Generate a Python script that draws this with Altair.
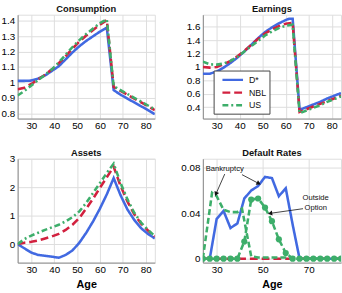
import math
import altair as alt
import pandas as pd

# ---------------- data ----------------
SERIES = ["D*", "NBL", "US"]
AGES = [24, 27, 30, 33, 36, 39, 42, 45, 48, 51, 54, 57, 60, 63, 66, 69, 72, 75, 78, 81, 84]

cons_d = [1.010, 1.010, 1.012, 1.025, 1.045, 1.075, 1.105, 1.150, 1.195, 1.235, 1.270, 1.300, 1.330, 1.355,
          0.950, 0.920, 0.895, 0.870, 0.845, 0.820, 0.793]
cons_n = [0.955, 0.965, 0.990, 1.020, 1.050, 1.085, 1.125, 1.170, 1.220, 1.265, 1.305, 1.340, 1.375, 1.405,
          0.970, 0.945, 0.920, 0.895, 0.870, 0.845, 0.820]
cons_u = [0.915, 0.945, 0.980, 1.015, 1.050, 1.085, 1.130, 1.180, 1.230, 1.275, 1.315, 1.350, 1.385, 1.410,
          0.975, 0.950, 0.925, 0.900, 0.875, 0.850, 0.825]

earn_d_ages = [24, 27, 30, 33, 36, 39, 42, 45, 48, 51, 54, 57, 60, 61.5, 63, 66, 69, 72, 75, 78, 81, 84]
earn_d = [0.90, 0.90, 0.93, 0.99, 1.06, 1.14, 1.23, 1.33, 1.43, 1.52, 1.59, 1.65, 1.70, 1.72, 1.72,
          0.36, 0.40, 0.44, 0.48, 0.53, 0.57, 0.61]
earn_n = [1.00, 0.99, 1.00, 1.04, 1.09, 1.16, 1.24, 1.33, 1.42, 1.50, 1.56, 1.61, 1.645, 1.66,
          0.33, 0.37, 0.41, 0.45, 0.49, 0.53, 0.57]
earn_u = [1.08, 1.04, 1.035, 1.05, 1.09, 1.15, 1.23, 1.31, 1.39, 1.47, 1.53, 1.58, 1.615, 1.63,
          0.31, 0.35, 0.39, 0.43, 0.48, 0.52, 0.56]

asset_d = [0.00, -0.15, -0.30, -0.38, -0.41, -0.44, -0.48, -0.38, -0.22, 0.05, 0.40, 0.80, 1.25, 1.75,
           2.32, 1.72, 1.22, 0.85, 0.56, 0.36, 0.20]
asset_n = [0.00, 0.05, 0.08, 0.13, 0.20, 0.27, 0.36, 0.50, 0.68, 0.92, 1.25, 1.60, 1.98, 2.35,
           2.72, 2.05, 1.50, 1.05, 0.72, 0.48, 0.27]
asset_u = [0.00, 0.18, 0.30, 0.40, 0.50, 0.59, 0.68, 0.80, 0.95, 1.15, 1.45, 1.80, 2.15, 2.50,
           2.83, 2.15, 1.58, 1.10, 0.76, 0.50, 0.28]

def_d = [0.0, 0.0, 0.035, 0.042, 0.027, 0.031, 0.053, 0.060, 0.064, 0.072, 0.071, 0.055, 0.062, 0.030,
         0.0, 0.0, 0.0, 0.0, 0.0, 0.0, 0.0]
def_n = [0.0] * 21
bk_u_ages = [24, 28, 30, 33, 36, 39, 41, 45, 48, 51, 54, 57, 60, 63, 66, 69, 72, 75, 78, 81, 84]
bk_u = [0.0, 0.058, 0.055, 0.043, 0.041, 0.041, 0.044, 0.002, 0.001, 0.001, 0.001, 0.001, 0.001, 0.0,
        0.0, 0.0, 0.0, 0.0, 0.0, 0.0, 0.0]
oo_u = [0.0, 0.0, 0.0, 0.0, 0.0, 0.0, 0.015, 0.052, 0.053, 0.045, 0.033, 0.017, 0.005, 0.0,
        0.0, 0.0, 0.0, 0.0, 0.0, 0.0, 0.0]

TITLES = ["Consumption", "Earnings", "Assets", "Default Rates"]

# annotation texts and arrows (Default Rates panel)
ann_text = ["Bankruptcy", "Outside", "Option"]
ann_tx = [33.5, 73.0, 73.0]
ann_ty = [0.0785, 0.0535, 0.0447]
arr_x1 = [33.5, 41.0, 67.5]
arr_y1 = [0.0745, 0.0740, 0.0440]
arr_x2 = [29.8, 48.0, 53.5]
arr_y2 = [0.0575, 0.0665, 0.0400]

# ---------------- style ----------------
BLUE = "#4169E1"
RED = "#D2213F"
GREEN = "#3DAE6A"
DASHES = [[1, 0], [8, 4], [6, 3, 2, 3]]
FONT = "Liberation Sans"
LW = 2.6
WL, WR = 140, 141
HT, HB = 106, 106


def long_df(parts):
    rows = []
    for name, ages, vals in parts:
        for a, v in zip(ages, vals):
            rows.append({"age": a, "value": v, "series": name})
    return pd.DataFrame(rows)


def x_enc(title=None):
    kw = dict(values=[30, 40, 50, 60, 70, 80], labelPadding=2, ticks=False)
    kw["title"] = title if title else None
    return alt.X("age:Q", scale=alt.Scale(domain=[24, 84], nice=False, zero=False),
                 axis=alt.Axis(**kw))


def y_enc(domain, ticks, fmt):
    return alt.Y("value:Q", scale=alt.Scale(domain=domain, nice=False, zero=False),
                 axis=alt.Axis(values=ticks, format=fmt, title=None, ticks=False, labelPadding=3))


def enc_series(legend):
    c = alt.Color("series:N", scale=alt.Scale(domain=SERIES, range=[BLUE, RED, GREEN]), legend=legend)
    d = alt.StrokeDash("series:N", scale=alt.Scale(domain=SERIES, range=DASHES), legend=legend)
    return c, d


def lines(df, ydom, yticks, fmt, xtitle=None, legend=None):
    c, d = enc_series(legend)
    return alt.Chart(df).mark_line(strokeWidth=LW, clip=True).encode(
        x=x_enc(xtitle), y=y_enc(ydom, yticks, fmt), color=c, strokeDash=d,
        detail="series:N")


def title_layer(text, width):
    return alt.Chart(pd.DataFrame({"t": [text]})).mark_text(
        font=FONT, fontSize=9.5, fontWeight="bold", color="#111", baseline="middle").encode(
        x=alt.value(width / 2), y=alt.value(-6), text="t:N")


leg = alt.Legend(orient="none", legendX=11, legendY=57, title=None,
                 symbolType="M-2.1,0H2.1", symbolStrokeWidth=2.5, symbolSize=100,
                 labelFontSize=9, labelFont=FONT, labelColor="#111", strokeColor="#444",
                 fillColor="white", padding=3, rowPadding=1, cornerRadius=0, labelOffset=10,
                 symbolOffset=10)

df_c = long_df([("D*", AGES, cons_d), ("NBL", AGES, cons_n), ("US", AGES, cons_u)])
df_e = long_df([("D*", earn_d_ages, earn_d), ("NBL", AGES, earn_n), ("US", AGES, earn_u)])
df_a = long_df([("D*", AGES, asset_d), ("NBL", AGES, asset_n), ("US", AGES, asset_u)])
df_r = long_df([("D*", AGES, def_d), ("NBL", AGES, def_n)])
df_bk = pd.DataFrame({"age": bk_u_ages, "value": bk_u})
df_oo = pd.DataFrame({"age": AGES, "value": oo_u})

cons = alt.layer(
    lines(df_c, [0.765, 1.44], [0.8, 0.9, 1.0, 1.1, 1.2, 1.3, 1.4], "~g"),
    title_layer(TITLES[0], WL)).properties(width=WL, height=HT)
earn = alt.layer(
    lines(df_e, [0.23, 1.78], [0.4, 0.6, 0.8, 1.0, 1.2, 1.4, 1.6], "~g", legend=leg),
    title_layer(TITLES[1], WR)).properties(width=WR, height=HT)
assets = alt.layer(
    lines(df_a, [-0.65, 3.0], [0, 1, 2, 3], "~g", xtitle="Age"),
    title_layer(TITLES[2], WL)).properties(width=WL, height=HB)

YD = [-0.0035, 0.088]
YT = [0, 0.02, 0.04, 0.06, 0.08]
base_r = lines(df_r, YD, YT, "~g", xtitle="Age")
bk_line = alt.Chart(df_bk).mark_line(strokeWidth=LW, color=GREEN, strokeDash=[6, 3],
                                     clip=True).encode(
    x=x_enc("Age"), y=y_enc(YD, YT, "~g"))
oo_line = alt.Chart(df_oo).mark_line(strokeWidth=LW, color=GREEN, strokeDash=[6, 3],
                                     clip=True).encode(
    x=x_enc("Age"), y=y_enc(YD, YT, "~g"))
oo_pts = alt.Chart(df_oo).mark_point(filled=True, size=40, color=GREEN, opacity=1, clip=True).encode(
    x=x_enc("Age"), y=y_enc(YD, YT, "~g"))

# arrows
PXX = WR / 60.0
PXY = HB / (YD[1] - YD[0])
angles = []
for x1, y1, x2, y2 in zip(arr_x1, arr_y1, arr_x2, arr_y2):
    dxs = (x2 - x1) * PXX
    dys = -(y2 - y1) * PXY
    angles.append(math.degrees(math.atan2(dxs, -dys)) % 360)
df_arr = pd.DataFrame({"x1": arr_x1, "y1": arr_y1, "x2": arr_x2, "y2": arr_y2, "ang": angles})
df_txt = pd.DataFrame({"age": ann_tx, "value": ann_ty, "label": ann_text})

arr_rule = alt.Chart(df_arr).mark_rule(color="#111", strokeWidth=0.8).encode(
    x=alt.X("x1:Q"), y=alt.Y("y1:Q"), x2="x2:Q", y2="y2:Q")
arr_head = alt.Chart(df_arr).mark_point(shape="triangle", filled=True, size=26, color="#111",
                                        opacity=1).encode(
    x=alt.X("x2:Q"), y=alt.Y("y2:Q"), angle=alt.Angle("ang:Q", scale=None))
txt = alt.Chart(df_txt).mark_text(font=FONT, fontSize=7.8, color="#111").encode(
    x=alt.X("age:Q"), y=alt.Y("value:Q"), text="label:N")

default = alt.layer(base_r, bk_line, oo_line, oo_pts, arr_rule, arr_head, txt,
                    title_layer(TITLES[3], WR)).properties(width=WR, height=HB)

chart = alt.concat(cons, earn, assets, default, columns=2,
                   spacing={"row": 16, "column": 25}).resolve_legend(
    color="independent", strokeDash="independent").properties(
    padding={"left": 0, "top": 0, "right": 0, "bottom": 0}
).configure_view(stroke=None).configure_axis(
    labelFont=FONT, labelFontSize=8, labelColor="#333", titleFont=FONT, titleFontSize=9.5,
    titleFontWeight="normal", titleColor="#333", titlePadding=3,
    domainColor="#444", domainWidth=0.8, gridColor="#e4e4e4", gridWidth=0.7
).configure(background="white")

chart.save("out.html", embed_options={"renderer": "svg", "actions": False})
